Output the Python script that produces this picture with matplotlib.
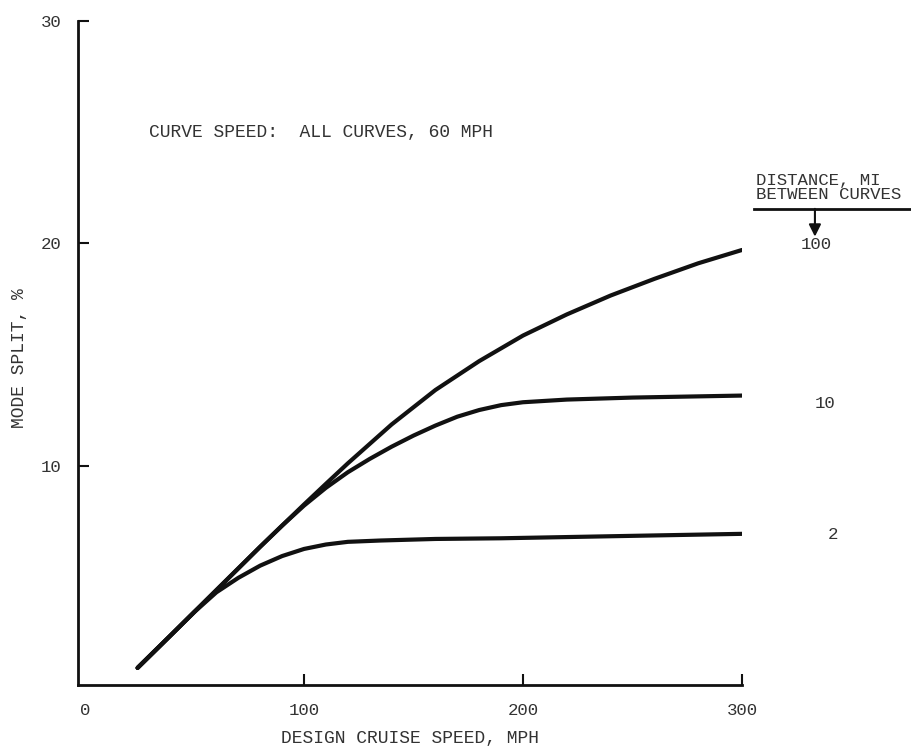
import matplotlib
matplotlib.use("Agg")
import matplotlib.pyplot as plt

# ---- data ----
x_d100 = [24, 40, 60, 80, 90, 100, 110, 120, 140, 160, 180, 200, 220, 240, 260, 280, 300]
y_d100 = [0.9, 2.45, 4.4, 6.35, 7.3, 8.25, 9.18, 10.1, 11.85, 13.4, 14.7, 15.85, 16.8, 17.65, 18.4, 19.1, 19.7]

x_d10 = [24, 40, 60, 80, 90, 100, 110, 120, 130, 140, 150, 160, 170, 180, 190, 200, 220, 250, 300]
y_d10 = [0.9, 2.45, 4.4, 6.35, 7.3, 8.2, 9.0, 9.7, 10.3, 10.85, 11.35, 11.8, 12.2, 12.5, 12.72, 12.85, 12.97, 13.06, 13.15]

x_d2 = [24, 40, 50, 60, 70, 80, 90, 100, 110, 120, 135, 160, 190, 250, 300]
y_d2 = [0.9, 2.45, 3.42, 4.3, 4.95, 5.5, 5.93, 6.25, 6.45, 6.57, 6.63, 6.70, 6.73, 6.84, 6.93]

curve_labels = ["100", "10", "2"]
x_ticks = [0, 100, 200, 300]
y_ticks = [10, 20, 30]

W, H = 911, 753
fig = plt.figure(figsize=(W / 100, H / 100), dpi=100)

left_px, right_px, top_px, bot_px = 78, 742, 21, 685
ax = fig.add_axes([left_px / W, 1 - bot_px / H, (right_px - left_px) / W, (bot_px - top_px) / H])

FONT = "Liberation Mono"
TC = "#333333"

for xs, ys in [(x_d100, y_d100), (x_d10, y_d10), (x_d2, y_d2)]:
    ax.plot(xs, ys, color="#111111", lw=3.0, solid_capstyle="round", solid_joinstyle="round")

ax.set_xlim(-3.2, 300)
ax.set_ylim(0.13, 30)

for s in ["top", "right"]:
    ax.spines[s].set_visible(False)
for s in ["left", "bottom"]:
    ax.spines[s].set_linewidth(2.0)
    ax.spines[s].set_color("#111111")

ax.set_xticks(x_ticks)
ax.set_xticklabels([str(v) for v in x_ticks])
ax.set_yticks(y_ticks)
ax.set_yticklabels([str(v) for v in y_ticks])
ax.tick_params(direction="in", length=8, width=1.5, color="#111111",
               labelsize=12.5, labelcolor=TC)
ax.tick_params(axis="x", pad=13)
ax.tick_params(axis="y", pad=12)
ax.xaxis.get_major_ticks()[0].tick1line.set_visible(False)
for lab in ax.get_xticklabels() + ax.get_yticklabels():
    lab.set_fontfamily(FONT)

fig.text(410 / W, 1 - 739 / H, "DESIGN CRUISE SPEED, MPH", ha="center", va="center",
         fontsize=13, family=FONT, color=TC)
fig.text(20 / W, 1 - 358 / H, "MODE SPLIT, %", ha="center", va="center", rotation=90,
         fontsize=13, family=FONT, color=TC)

ax.text(29.2, 25.0, "CURVE SPEED:  ALL CURVES, 60 MPH", ha="left", va="center",
        fontsize=13, family=FONT, color=TC)

# legend-like header at right
ax.text(306.4, 22.62, "DISTANCE, MI", ha="left", va="baseline", fontsize=12.5,
        family=FONT, color=TC, clip_on=False)
ax.text(306.4, 21.98, "BETWEEN CURVES", ha="left", va="baseline", fontsize=12.5,
        family=FONT, color=TC, clip_on=False)
ax.plot([305.5, 378], [21.55, 21.55], color="#111111", lw=2.0, clip_on=False)
ax.annotate("", xy=(333.3, 20.3), xytext=(333.3, 21.55),
            arrowprops=dict(arrowstyle="-|>", lw=1.5, color="#111111", mutation_scale=18,
                            shrinkA=0, shrinkB=0),
            annotation_clip=False)

label_pos = [(334.0, 19.93), (338.0, 12.78), (341.6, 6.88)]
for lab, (lx, ly) in zip(curve_labels, label_pos):
    ax.text(lx, ly, lab, ha="center", va="center", fontsize=12.5, family=FONT,
            color=TC, clip_on=False)

fig.savefig("out.png", dpi=100)
